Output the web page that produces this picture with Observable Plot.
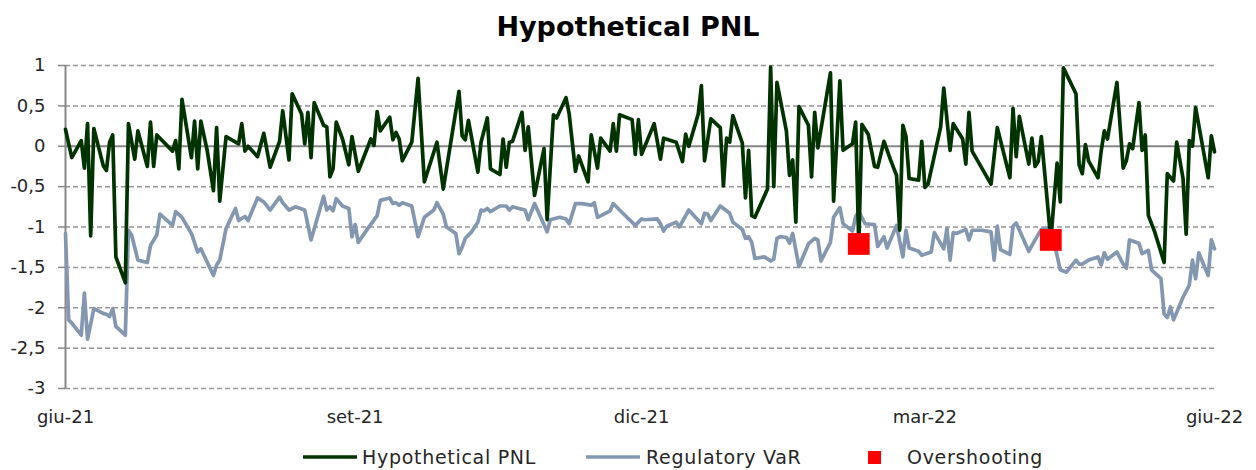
<!DOCTYPE html>
<html>
<head>
<meta charset="utf-8">
<script src="https://cdn.jsdelivr.net/npm/d3@7"></script>
<script src="https://cdn.jsdelivr.net/npm/@observablehq/plot@0.6"></script>
<style>
  body { margin: 0; background: #fff; font-family: "DejaVu Sans", sans-serif; }
  #wrap { width: 1256px; height: 470px; position: relative; overflow: hidden; }
  #title { height: 45px; box-sizing: border-box; padding-top: 11px; line-height: 32px; text-align: center; font-weight: bold; font-size: 27px; color: #000; }
  #chart svg { display: block; }
  .lg { position: absolute; top: 446px; height: 22px; display: flex; align-items: center; font-size: 19px; letter-spacing: 0.7px; color: #262626; white-space: nowrap; }
</style>
</head>
<body>
<div id="wrap">
  <div id="title">Hypothetical PNL</div>
  <div id="chart"></div>
  <div id="legend"></div>
</div>
<script>
// Days since 1 June 2021 (start of the period)
const baseDate = "2021-06-01";

const pnlDays = [0,2,5,6,7,8,9,12,13,14,15,16,19,20,22,23,26,27,28,29,34,35,36,37,40,41,42,43,45,47,48,49,51,55,56,57,58,61,63,65,68,69,71,72,
75,76,77,78,79,82,83,84,85,86,88,90,91,93,97,98,99,100,103,104,105,106,107,110,112,114,118,120,125,126,127,128,131,132,134,135,138,139,140,141,142,145,
146,147,149,152,153,155,156,159,160,162,163,166,167,169,170,173,174,175,176,180,181,182,183,187,189,190,194,196,197,198,201,202,203,205,208,209,210,211,212,215,216,217,218,
219,223,224,225,226,229,230,231,232,233,236,237,238,239,243,244,246,247,250,251,252,253,255,257,258,260,262,264,265,266,267,268,271,272,273,274,276,278,279,281,282,285,286,287,288,
294,296,300,301,302,303,306,307,308,309,310,313,315,316,317,321,322,323,324,325,328,329,330,331,334,336,337,338,339,341,342,343,344,346,349,350,352,353,355,356,357,358,359,363,364,365];
const pnlValues = [0.21,-0.14,0.07,-0.27,0.28,-1.11,0.22,-0.24,-0.30,0.05,0.14,-1.37,-1.69,0.28,-0.16,0.19,-0.25,0.30,-0.25,0.14,-0.06,0.07,-0.28,0.58,-0.14,0.31,-0.28,0.31,-0.05,-0.55,0.23,-0.68,0.12,0.03,0.28,-0.06,0.00,-0.13,0.16,-0.26,0.06,0.44,-0.17,0.65,
0.40,0.03,0.42,-0.14,0.54,0.26,0.24,-0.38,-0.28,0.30,0.09,-0.23,0.12,-0.31,0.09,0.01,0.43,0.19,0.36,0.08,0.17,0.09,-0.18,0.05,0.84,-0.44,0.05,-0.53,0.68,0.13,0.08,0.32,-0.32,0.05,0.35,-0.28,-0.35,0.09,-0.26,0.05,0.06,0.42,
-0.05,0.24,-0.61,-0.03,-0.91,0.39,0.35,0.60,0.40,-0.31,-0.12,-0.44,0.14,-0.27,0.10,-0.06,0.28,-0.06,0.39,0.33,-0.10,0.33,-0.10,0.28,-0.16,0.10,0.05,-0.19,0.15,0.00,0.40,0.75,-0.18,0.34,0.23,-0.49,0.10,0.05,0.38,0.04,-0.64,-0.05,-0.86,
-0.88,-0.53,0.98,-0.50,0.79,0.19,-0.36,-0.17,-0.94,0.49,0.26,-0.38,0.42,-0.02,0.91,-0.68,0.81,-0.05,0.03,0.30,-1.21,0.27,0.15,-0.25,-0.26,0.06,-0.16,-0.36,-1.04,0.26,0.12,-0.40,-0.42,0.06,-0.51,-0.47,-0.12,0.24,0.72,-0.05,0.28,0.09,-0.22,0.42,-0.06,
-0.47,0.23,-0.39,0.47,-0.13,0.37,-0.22,0.10,-0.25,-0.19,0.12,-1.16,-0.21,-0.69,0.97,0.65,-0.23,-0.34,0.02,-0.18,-0.39,-0.06,0.19,0.09,0.79,-0.27,-0.18,0.03,-0.03,0.54,-0.05,0.14,-0.86,-1.06,-1.44,-0.34,-0.43,0.05,-0.40,-1.09,0.07,0.00,0.48,-0.39,0.13,-0.07];

const varDays = [0,1,2,5,6,7,9,12,13,14,15,16,19,20,21,23,26,27,29,30,34,35,37,40,42,43,47,48,49,51,54,55,57,58,61,63,65,68,69,71,73,
76,78,82,83,84,85,86,88,90,91,92,93,96,99,100,103,104,105,106,107,110,112,114,117,118,120,121,124,125,126,127,129,131,132,133,134,135,138,140,141,142,144,
146,147,149,153,154,157,159,160,162,164,167,168,169,173,174,176,181,183,184,188,189,190,191,194,195,198,202,203,204,205,208,211,212,215,216,217,
218,219,222,224,225,226,227,229,230,231,233,236,238,239,240,243,244,246,247,250,251,252,254,257,258,260,261,264,266,267,268,271,272,275,276,279,280,281,282,283,286,287,288,
291,294,295,296,297,300,301,302,306,308,310,313,316,318,321,322,323,325,328,329,330,331,334,336,337,338,341,342,344,345,348,349,350,351,352,355,357,358,359,360,363,364,365];
const varValues = [-1.08,-2.15,-2.19,-2.34,-1.82,-2.39,-2.01,-2.07,-2.08,-2.11,-2.01,-2.23,-2.34,-1.04,-1.10,-1.41,-1.44,-1.23,-1.10,-0.84,-0.98,-0.81,-0.88,-1.08,-1.31,-1.27,-1.60,-1.47,-1.41,-1.02,-0.77,-0.92,-0.87,-0.92,-0.64,-0.69,-0.79,-0.63,-0.70,-0.79,-0.75,
-0.79,-1.16,-0.62,-0.79,-0.75,-0.80,-0.65,-0.74,-0.77,-1.12,-0.97,-1.19,-1.02,-0.86,-0.67,-0.64,-0.71,-0.70,-0.73,-0.70,-0.74,-1.12,-0.88,-0.79,-0.70,-0.84,-1.00,-1.08,-1.33,-1.25,-1.14,-1.06,-0.94,-0.79,-0.80,-0.77,-0.81,-0.74,-0.74,-0.79,-0.75,-0.77,
-0.79,-0.91,-0.71,-1.06,-0.91,-0.88,-0.90,-0.96,-0.71,-0.71,-0.73,-0.70,-0.88,-0.80,-0.71,-0.79,-0.98,-0.90,-0.91,-0.90,-0.96,-1.05,-0.99,-0.94,-1.00,-0.79,-0.96,-0.83,-0.84,-0.92,-0.74,-0.83,-0.94,-1.03,-1.14,-1.12,
-1.19,-1.39,-1.37,-1.42,-1.40,-1.14,-1.12,-1.13,-1.20,-1.08,-1.49,-1.21,-1.14,-1.16,-1.42,-1.19,-0.88,-0.76,-0.96,-1.05,-0.87,-0.81,-0.96,-0.97,-1.24,-1.12,-1.26,-0.98,-1.37,-1.04,-1.26,-1.30,-1.35,-1.31,-1.07,-1.27,-1.02,-1.41,-1.07,-1.08,-1.03,-1.16,-1.04,
-1.04,-1.06,-1.41,-0.99,-1.28,-1.34,-0.99,-0.95,-1.30,-1.16,-1.03,-1.00,-1.53,-1.56,-1.41,-1.46,-1.46,-1.41,-1.37,-1.47,-1.32,-1.40,-1.31,-1.46,-1.51,-1.16,-1.20,-1.33,-1.29,-1.53,-1.64,-2.08,-2.12,-1.99,-2.15,-1.87,-1.72,-1.41,-1.64,-1.32,-1.60,-1.16,-1.27];

const overDays = [252, 313];
const overValues = [-1.21, -1.16];

const yTicks = [1, 0.5, 0, -0.5, -1, -1.5, -2, -2.5, -3];
const tickDays = [0, 92, 183, 273, 365];
const tickLabels = ["giu-21", "set-21", "dic-21", "mar-22", "giu-22"];

const seriesNames = ["Hypothetical PNL", "Regulatory VaR", "Overshooting"];
const seriesColors = ["#003300", "#8497B0", "#FF0000"];

const t0 = new Date(baseDate + "T00:00:00Z").getTime();
const toDate = n => new Date(t0 + n * 864e5);

const pnlData = pnlDays.map((d, i) => ({date: toDate(d), value: pnlValues[i]}));
const varData = varDays.map((d, i) => ({date: toDate(d), value: varValues[i]}));
const overData = overDays.map((d, i) => ({date: toDate(d), value: overValues[i]}));
const tickDates = tickDays.map(toDate);
const labelMap = new Map(tickDates.map((d, i) => [+d, tickLabels[i]]));

const chart = Plot.plot({
  width: 1256,
  height: 390,
  marginLeft: 65,
  marginRight: 42,
  marginTop: 20,
  marginBottom: 47,
  style: {fontFamily: "DejaVu Sans, sans-serif", fontSize: "18px", color: "#262626", background: "#fff"},
  x: {type: "utc", domain: [toDate(0), toDate(365)]},
  y: {domain: [-3, 1]},
  marks: [
    Plot.gridY(yTicks.filter(v => v !== 0), {stroke: "#969696", strokeOpacity: 1, strokeWidth: 1.5, strokeDasharray: "5,3"}),
    Plot.ruleY([0], {stroke: "#878787", strokeWidth: 2}),
    Plot.ruleX([toDate(0)], {stroke: "#878787", strokeWidth: 2}),
    Plot.axisY({ticks: yTicks, tickFormat: v => String(v).replace(".", ","), tickSize: 7, tickPadding: 13, stroke: "#878787", strokeWidth: 1.5, fill: "#262626", label: null}),
    Plot.axisX({ticks: tickDates, tickFormat: d => labelMap.get(+d), tickSize: 0, tickPadding: 22, fill: "#262626", label: null}),
    Plot.line(varData, {x: "date", y: "value", stroke: seriesColors[1], strokeWidth: 3.7, strokeLinejoin: "round"}),
    Plot.line(pnlData, {x: "date", y: "value", stroke: seriesColors[0], strokeWidth: 3.7, strokeLinejoin: "round"}),
    Plot.dot(overData, {x: "date", y: "value", symbol: "square", r: 12.3, fill: seriesColors[2], stroke: "none"})
  ]
});
document.getElementById("chart").appendChild(chart);

// Legend
const legend = document.getElementById("legend");
const lgLeft = [303, 586, 868];
const lgTextGap = [5, 6, 26];
seriesNames.forEach((name, i) => {
  const item = document.createElement("div");
  item.className = "lg";
  item.style.left = lgLeft[i] + "px";
  const sw = i < 2
    ? `<svg width="54" height="22"><line x1="0" y1="11" x2="54" y2="11" stroke="${seriesColors[i]}" stroke-width="3.5"/></svg>`
    : `<svg width="13" height="22"><rect x="0" y="5" width="13" height="13" fill="${seriesColors[i]}"/></svg>`;
  item.innerHTML = sw + `<span style="margin-left:${lgTextGap[i]}px">${name}</span>`;
  legend.appendChild(item);
});
</script>
</body>
</html>
